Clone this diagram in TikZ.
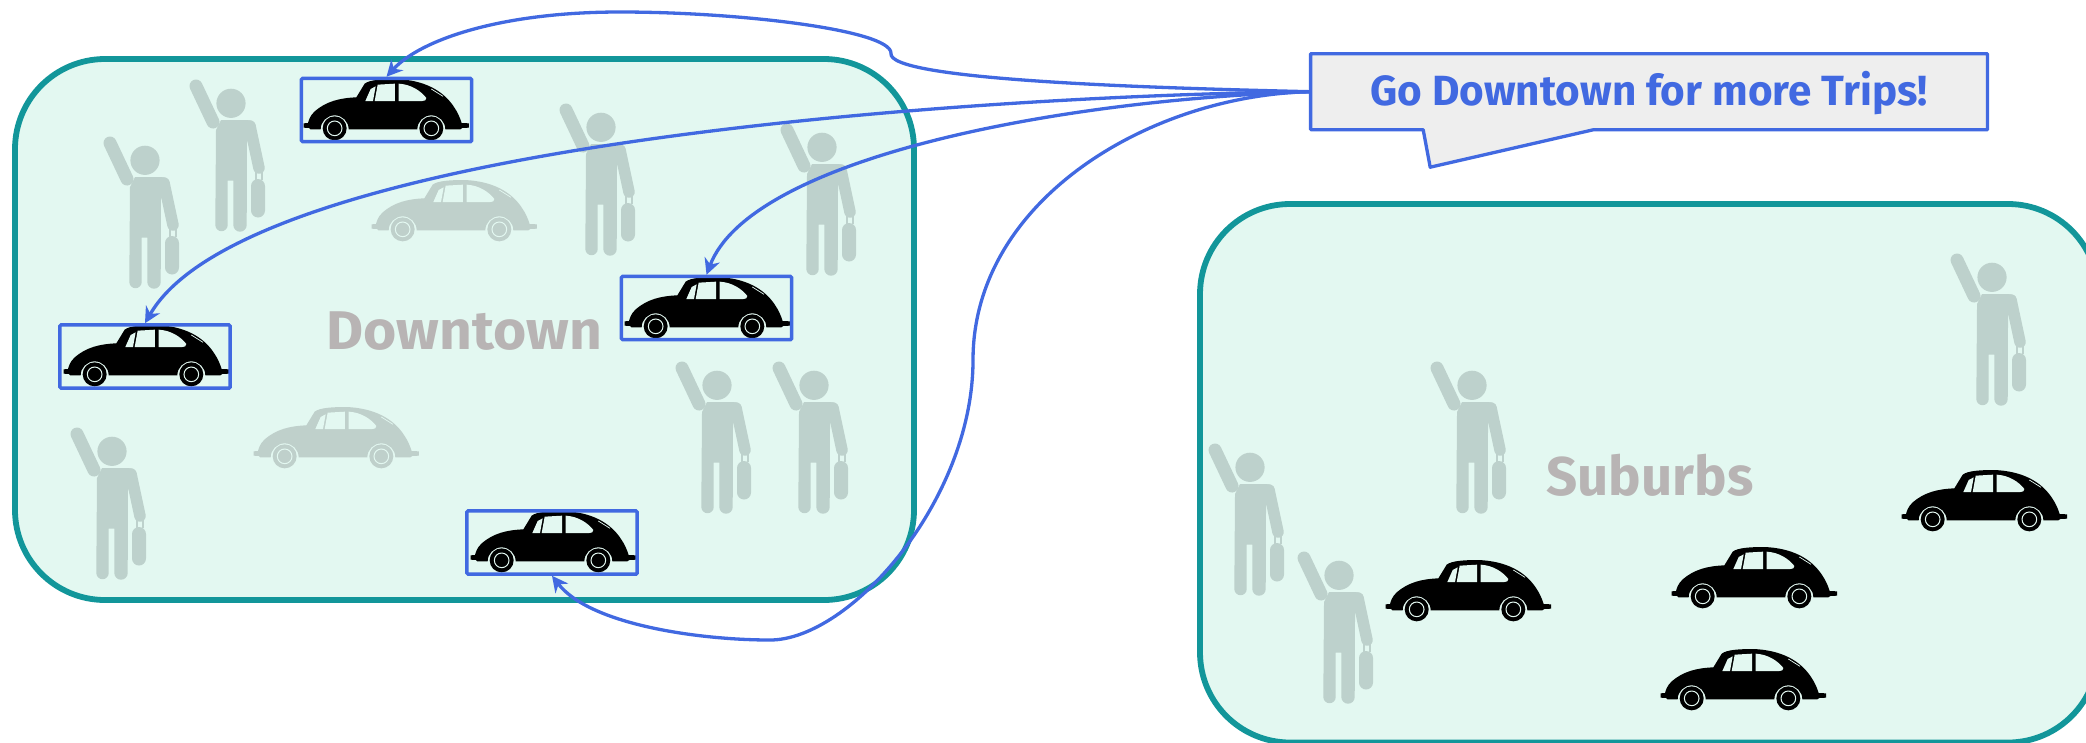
\documentclass[tikz,border=0pt]{standalone}
\usepackage{fontspec}
\setmainfont{Fira Sans}
\usetikzlibrary{arrows.meta}
\definecolor{zoneline}{HTML}{12969A}
\definecolor{zonefill}{HTML}{E3F8F1}
\definecolor{ghost}{HTML}{BDD1CC}
\definecolor{ghostcar}{HTML}{BFD0CB}
\definecolor{linkblue}{HTML}{4169E1}
\definecolor{balloon}{HTML}{EEEEEE}
\definecolor{zonetext}{HTML}{B8B4B4}
\tikzset{
	zone/.style={draw=zoneline, fill=zonefill, line width=0.058cm, rounded corners=0.9cm},
	zonelabel/.style={text=zonetext, font=\fontsize{15.5}{18}\selectfont\bfseries},
	carbox/.style={draw=linkblue, line width=0.035cm, minimum width=1.7cm, minimum height=0.63cm, inner sep=0pt, rounded corners=0.3pt},
	link/.style={draw=linkblue, line width=0.033cm, -{Stealth[length=0.16cm,width=0.16cm]}},
	pics/person/.style={code={
		\fill[ghost] (42,23.3) circle (14.6);
		\draw[ghost, line width=0.13cm, line cap=round] (7,6) -- (24,42);
		\draw[ghost, line width=0.115cm, line cap=round] (61,46) -- (70,88);
		\fill[ghost] (27,50) -- (32,40) -- (58,40) .. controls (64,40) and (67,44) .. (67,48) -- (58,62)
			-- (57.7,145) arc (0:180:6.7) -- (44.3,100.7) -- (38.7,100.7) -- (38.7,145) arc (0:180:6.2) -- cycle;
		\fill[ghost, rounded corners=2pt] (62,99) rectangle (76,137.5);
		\fill[ghost] (66,92) rectangle (68,100);
		\fill[ghost] (72,92) rectangle (74,100);
	}},
	pics/car/.style={code={
		\begin{scope}[scale=0.3333, shift={(-40,-58)}]
			\fill[#1] (42,191) -- (42,204) -- (58,205) -- (62,209) -- (93,209) arc (180:360:42) -- (383,209) arc (180:360:42) -- (512,209)
				-- (518,205) -- (538,204) -- (538,191) -- (516,190) .. controls (510,172) and (505,160) .. (495,145)
				.. controls (470,105) and (420,62) .. (320,58) .. controls (280,58) and (240,60) .. (225,72)
				-- (200,113) .. controls (150,115) and (110,125) .. (75,155) .. controls (60,170) and (58,180) .. (55,190) -- cycle;
			\fill[#1] (135,206) circle (36);
			\fill[#1] (425,206) circle (36);
			\draw[zonefill, line width=0.01cm] (135,206) circle (22);
			\draw[zonefill, line width=0.01cm] (425,206) circle (22);
			\fill[zonefill] (227,124) -- (243,88) -- (258,80) -- (250,124) -- cycle;
			\fill[zonefill] (255,124) -- (264,75) -- (316,72) -- (316,124) -- cycle;
			\fill[zonefill] (327,124) -- (327,72) .. controls (365,74) and (395,95) .. (410,115) .. controls (410,122) and (405,124) .. (398,124) -- cycle;
			\draw[zonefill, line width=0.007cm] (425,88) -- (460,110);
		\end{scope}
	}},
}
\begin{document}
\begin{tikzpicture}[x=0.01cm, y=-0.01cm]
	\useasboundingbox (0,0) rectangle (2086,742);
	\clip (0,0) rectangle (2086,742);
	% 1. regions
	\draw[zone] (15,59) rectangle (914,600);
	\draw[zone] (1200,204) rectangle (2098,742.5);
	\node[zonelabel, xscale=1.045] (downtown) at (464,331) {Downtown};
	\node[zonelabel] (suburbs) at (1650,475) {Suburbs};

	% 2. people waiting
	\pic at (103,137) {person};
	\pic at (189,80) {person};
	\pic at (559,104) {person};
	\pic at (780,124) {person};
	\pic at (675,362) {person};
	\pic at (772,362) {person};
	\pic at (70,428) {person};
	\pic at (1950,254) {person};
	\pic at (1430,362) {person};
	\pic at (1208,444) {person};
	\pic at (1297,552) {person};

	% 3. cars
	\pic at (371,180) {car=ghostcar};
	\pic at (253,407) {car=ghostcar};
	\pic at (1385,560) {car=black};
	\pic at (1671,547) {car=black};
	\pic at (1901,470) {car=black};
	\pic at (1660,649) {car=black};
	\pic at (303,79) {car=black};
	\pic at (624,277) {car=black};
	\pic at (63,325) {car=black};
	\pic at (470,511) {car=black};

	% 4. highlighted cars
	\node[carbox] (carA) at (386.5,110) {};
	\node[carbox] (carB) at (706.5,308) {};
	\node[carbox] (carC) at (145,356.5) {};
	\node[carbox] (carD) at (552,542.5) {};

	% 5. balloon
	\fill[balloon] (1424,129) -- (1431,166) -- (1593,129) -- cycle;
	\node[minimum width=6.75cm, minimum height=0.745cm, inner sep=0pt, text height=0.283cm, text depth=0pt, fill=balloon, text=linkblue,
		font=\fontsize{12}{14}\selectfont\bfseries] (balloon) at (1649,91.7) {Go Downtown for more Trips!};
	\draw[draw=linkblue, line width=0.033cm, line join=round] (balloon.north west) -- (balloon.north east) -- (balloon.south east)
		-- ([xshift=-3.935cm]balloon.south east) -- ([xshift=1.195cm, yshift=-0.375cm]balloon.south west) -- ([xshift=1.125cm]balloon.south west)
		-- (balloon.south west) -- cycle;

	% 6. links
	\coordinate (kink) at (891,53);
	\coordinate (bulge) at (973,360);
	\draw[draw=linkblue, line width=0.033cm] (balloon.west) .. controls (1150,88) and (885,80) .. (kink);
	\draw[link] (kink) .. controls (890,30) and (740,12) .. (620,12) .. controls (500,12) and (420,40) .. (carA.north);
	\draw[link] (balloon.west) .. controls (1000,95) and (250,140) .. (carC.north);
	\draw[link] (balloon.west) .. controls (1050,100) and (750,160) .. (carB.north);
	\draw[draw=linkblue, line width=0.033cm] (balloon.west) .. controls (1150,95) and (973,200) .. (bulge);
	\draw[link] (bulge) .. controls (973,500) and (850,640) .. (770,640) .. controls (700,640) and (590,625) .. (carD.south);
\end{tikzpicture}
\end{document}
